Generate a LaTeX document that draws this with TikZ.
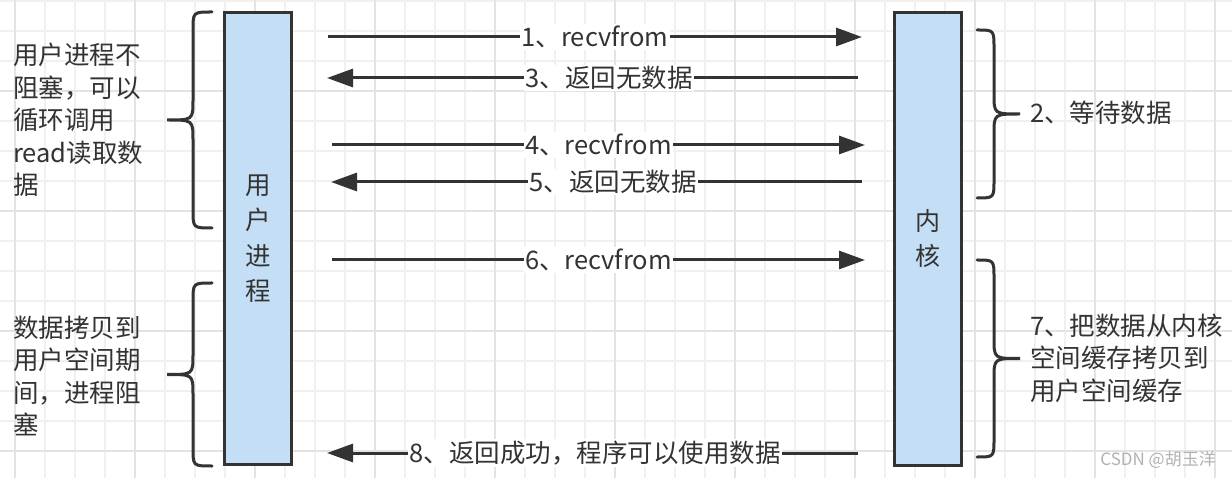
\documentclass[tikz,border=0pt]{standalone}
\usepackage{fontspec}
\setmainfont{Noto Sans CJK SC}
\usetikzlibrary{arrows.meta, positioning}
\definecolor{ink}{HTML}{333333}
\definecolor{boxblue}{HTML}{C4DEF6}
\definecolor{gridminor}{HTML}{F0F0F0}
\definecolor{gridmajor}{HTML}{E3E3E3}

\begin{document}
\begin{tikzpicture}[x=1pt,y=-1pt,
  box/.style={draw=ink, line width=3pt, fill=boxblue, text=ink, align=center,
    minimum width=67pt, minimum height=452pt, inner sep=0pt, font=\fontsize{25.5}{35.5}\selectfont},
  note/.style={text=ink, align=left, inner sep=0pt, anchor=west, font=\fontsize{25.5}{32.5}\selectfont},
  msg/.style={draw=ink, line width=3pt, -{Triangle[length=26pt,width=18pt]}},
  lbl/.style={fill=white, text=ink, inner sep=1.5pt, font=\fontsize{25.5}{28}\selectfont},
  brc/.style={draw=ink, line width=3pt, line cap=round}]
%背景网格
\useasboundingbox (0,0) rectangle (1232,478);
\fill[white] (0,0) rectangle (1232,478);
\foreach \i in {0,...,40} \draw[gridminor, line width=1.5pt] ({15+30*\i},0) -- ({15+30*\i},478);
\foreach \i in {0,...,15} \draw[gridminor, line width=1.5pt] (0,{1+30*\i}) -- (1232,{1+30*\i});
\foreach \i in {0,...,10} \draw[gridmajor, line width=1.8pt] ({15+120*\i},0) -- ({15+120*\i},478);
\foreach \i in {0,...,3} \draw[gridmajor, line width=1.8pt] (0,{91+120*\i}) -- (1232,{91+120*\i});

%用户进程与内核
\node[box] (user) at (258,238.5) {用\\户\\进\\程};
\node[box, font=\fontsize{25}{35}\selectfont] (kernel) at (928,239) {内\\核};

%消息
\coordinate (s1) at (328,37);  \coordinate (e1) at (862,37);
\coordinate (s3) at (858,78);  \coordinate (e3) at (327,78);
\coordinate (s4) at (332,145); \coordinate (e4) at (865,145);
\coordinate (s5) at (862,182); \coordinate (e5) at (331,182);
\coordinate (s6) at (332,260); \coordinate (e6) at (865,260);
\coordinate (s8) at (858,453); \coordinate (e8) at (327,453);
\draw[msg] (s1) -- node[lbl] (m1) {1、recvfrom} (e1);
\draw[msg] (s3) -- node[lbl, pos=.469] (m3) {3、返回无数据} (e3);
\draw[msg] (s4) -- node[lbl] (m4) {4、recvfrom} (e4);
\draw[msg] (s5) -- node[lbl, pos=.469] (m5) {5、返回无数据} (e5);
\draw[msg] (s6) -- node[lbl] (m6) {6、recvfrom} (e6);
\draw[msg] (s8) -- node[lbl, pos=.495] (m8) {8、返回成功，程序可以使用数据} (e8);

%大括号
\foreach \t/\b in {12/228, 283/466} {
  \pgfmathsetmacro\m{(\t+\b)/2}
  \draw[brc] (212,\t) .. controls (193,\t) .. (193,{\t+18}) -- (193,{\m-20})
    .. controls (193,\m) .. (167,\m) .. controls (193,\m) .. (193,{\m+20})
    -- (193,{\b-18}) .. controls (193,\b) .. (212,\b);
}
\foreach \t/\b in {30/198, 260/457} {
  \pgfmathsetmacro\m{(\t+\b)/2}
  \draw[brc] (977,\t) .. controls (994,\t) .. (994,{\t+18}) -- (994,{\m-20})
    .. controls (994,\m) .. (1020,\m) .. controls (994,\m) .. (994,{\m+20})
    -- (994,{\b-18}) .. controls (994,\b) .. (977,\b);
}

%说明文字
\node[note] (wait) at (13,120) {用户进程不\\阻塞，可以\\循环调用\\read读取数\\据};
\node[note] (block) at (13,376) {数据拷贝到\\用户空间期\\间，进程阻\\塞};
\node[note] (ready) at (1030,113) {2、等待数据};
\node[note] (copy) at (1030,358) {7、把数据从内核\\空间缓存拷贝到\\用户空间缓存};
\node[anchor=east, text=gray!60, inner sep=0pt, font=\fontsize{17}{20}\selectfont] (mark) at (1216,460) {CSDN @胡玉洋};
\end{tikzpicture}
\end{document}
